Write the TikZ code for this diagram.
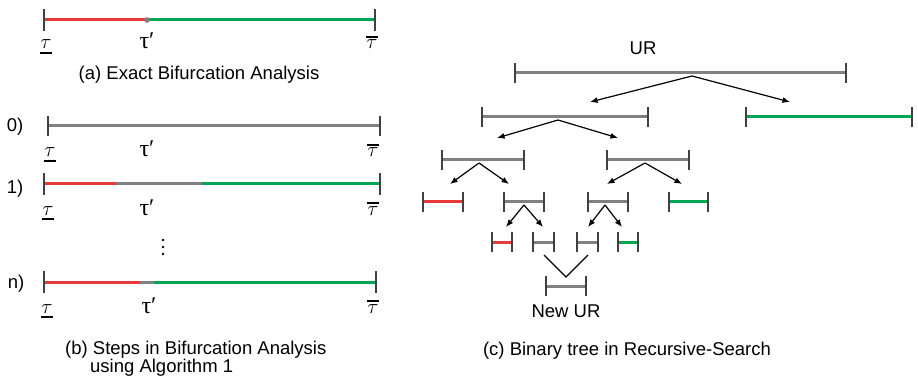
\documentclass[tikz,border=0pt]{standalone}
\usepackage{fontspec}
\setmainfont{Liberation Sans}
\newfontfamily\taufont{Liberation Serif}
\usetikzlibrary{arrows.meta}

\definecolor{ivred}{RGB}{232,58,58}
\definecolor{ivgreen}{RGB}{0,166,81}
\definecolor{ivgray}{RGB}{128,128,128}

% lower / upper bound and the bifurcation point
\newcommand{\tlo}{\fontsize{21.5}{24}\selectfont
  \vtop{\hbox{$\tau$}\kern3pt\hrule height2pt}}
\newcommand{\thi}{\fontsize{21.5}{24}\selectfont
  \vbox{\hrule height2pt\kern2.5pt\hbox{$\tau$}}}
\newcommand{\tpr}{{\taufont τ′}}

% interval |---| : [colour]{x1}{x2}{y}
\newcommand{\ivl}[4][ivgray]{%
  \draw[ivbar,#1] (#2,#4) -- (#3,#4);
  \draw[endtick] (#2,#4-10) -- (#2,#4+10) (#3,#4-10) -- (#3,#4+10);}

\tikzset{>={Latex[length=7.5pt,width=6pt]},%
  ivbar/.style={line width=3pt},%
  endtick/.style={line width=1.6pt,draw=black!75},%
  lbl/.style={font=\fontsize{18.5}{18}\selectfont,inner sep=0pt},%
  tau/.style={font=\fontsize{24}{28}\selectfont,inner sep=0pt,anchor=base},%
  link/.style={->,line width=1.2pt}}

\begin{document}
\begin{tikzpicture}[x=1pt,y=-1pt]
  \useasboundingbox (0,0) rectangle (918,382);

  % (a) exact analysis
  \draw[ivbar,ivred] (44,20) -- (147,20);
  \draw[ivbar,ivgreen] (147,20) -- (375,20);
  \draw[endtick] (44,9) -- (44,31) (375,9) -- (375,31);
  \fill[ivgray] (147,20) circle (2.8);
  \node[tau] (a-lo) at (46,49) {\tlo};
  \node[tau] (a-pr) at (147,49) {\tpr};
  \node[tau] (a-hi) at (372,49) {\thi};
  \node[lbl] (cap-a) at (199,75) {(a) Exact Bifurcation Analysis};

  % (b) steps 0), 1), n)
  \node[lbl] (s0) at (15,127) {0)};
  \ivl{48}{380}{126}
  \node[tau] (s0-lo) at (50,157) {\tlo};
  \node[tau] (s0-pr) at (147,157) {\tpr};
  \node[tau] (s0-hi) at (373,157) {\thi};

  \node[lbl] (s1) at (15,189) {1)};
  \draw[ivbar,ivred] (44,184) -- (116,184);
  \draw[ivbar,ivgray] (116,184) -- (202,184);
  \draw[ivbar,ivgreen] (202,184) -- (380,184);
  \draw[endtick] (44,173) -- (44,195) (380,173) -- (380,195);
  \node[tau] (s1-lo) at (48,215) {\tlo};
  \node[tau] (s1-pr) at (147,215) {\tpr};
  \node[tau] (s1-hi) at (373,215) {\thi};

  \foreach \y in {240,247,254} \fill (163,\y) circle (1.4);

  \node[lbl] (sn) at (16,284) {n)};
  \draw[ivbar,ivred] (44,282) -- (140,282);
  \draw[ivbar,ivgray] (140,282) -- (154,282);
  \draw[ivbar,ivgreen] (154,282) -- (376,282);
  \draw[endtick] (44,271) -- (44,293) (376,271) -- (376,293);
  \node[tau] (sn-lo) at (47,313) {\tlo};
  \node[tau] (sn-pr) at (149,313) {\tpr};
  \node[tau] (sn-hi) at (373,313) {\thi};

  \node[lbl,align=left,anchor=west] (cap-b) at (65,359)
    {(b) Steps in Bifurcation Analysis\\\hspace*{25pt}using Algorithm 1};

  % (c) recursive search tree
  \node[lbl] (ur) at (643,48) {UR};
  \ivl{515}{846}{73}
  \ivl{482}{648}{117}
  \ivl[ivgreen]{746}{912}{117}
  \ivl{442}{524}{160}
  \ivl{607}{689}{160}
  \ivl[ivred]{423}{463}{202}
  \ivl{504}{544}{202}
  \ivl{588}{628}{202}
  \ivl[ivgreen]{669}{708}{202}
  \ivl[ivred]{492}{512}{242}
  \ivl{533}{554}{242}
  \ivl{577}{598}{242}
  \ivl[ivgreen]{618}{638}{242}
  \ivl{546}{586}{286}

  \coordinate (r0) at (692,76);
  \coordinate (r1) at (558,120);
  \coordinate (r2a) at (479,163);
  \coordinate (r2b) at (645,163);
  \coordinate (r3a) at (524,205);
  \coordinate (r3b) at (605,205);
  \coordinate (h1a) at (590,102);
  \coordinate (h1b) at (790,102);
  \coordinate (h2a) at (497,138);
  \coordinate (h2b) at (618,138);
  \coordinate (h3a) at (450,184);
  \coordinate (h3b) at (509,184);
  \coordinate (h3c) at (607,184);
  \coordinate (h3d) at (682,184);
  \coordinate (h4a) at (506,227);
  \coordinate (h4b) at (543,227);
  \coordinate (h4c) at (588,227);
  \coordinate (h4d) at (622,227);
  \foreach \s/\t in {r0/h1a,r0/h1b,r1/h2a,r1/h2b,r2a/h3a,r2a/h3b,%
      r2b/h3c,r2b/h3d,r3a/h4a,r3a/h4b,r3b/h4c,r3b/h4d}
    \draw[link] (\s) -- (\t);

  % merge into the new UR
  \coordinate (m1) at (544,255);
  \coordinate (m2) at (588,255);
  \coordinate (mv) at (566,277);
  \draw[line width=1.2pt] (m1) -- (mv) -- (m2);
  \node[lbl] (new-ur) at (566,311) {New UR};

  \node[lbl] (cap-c) at (627,351) {(c) Binary tree in Recursive-Search};
\end{tikzpicture}
\end{document}
